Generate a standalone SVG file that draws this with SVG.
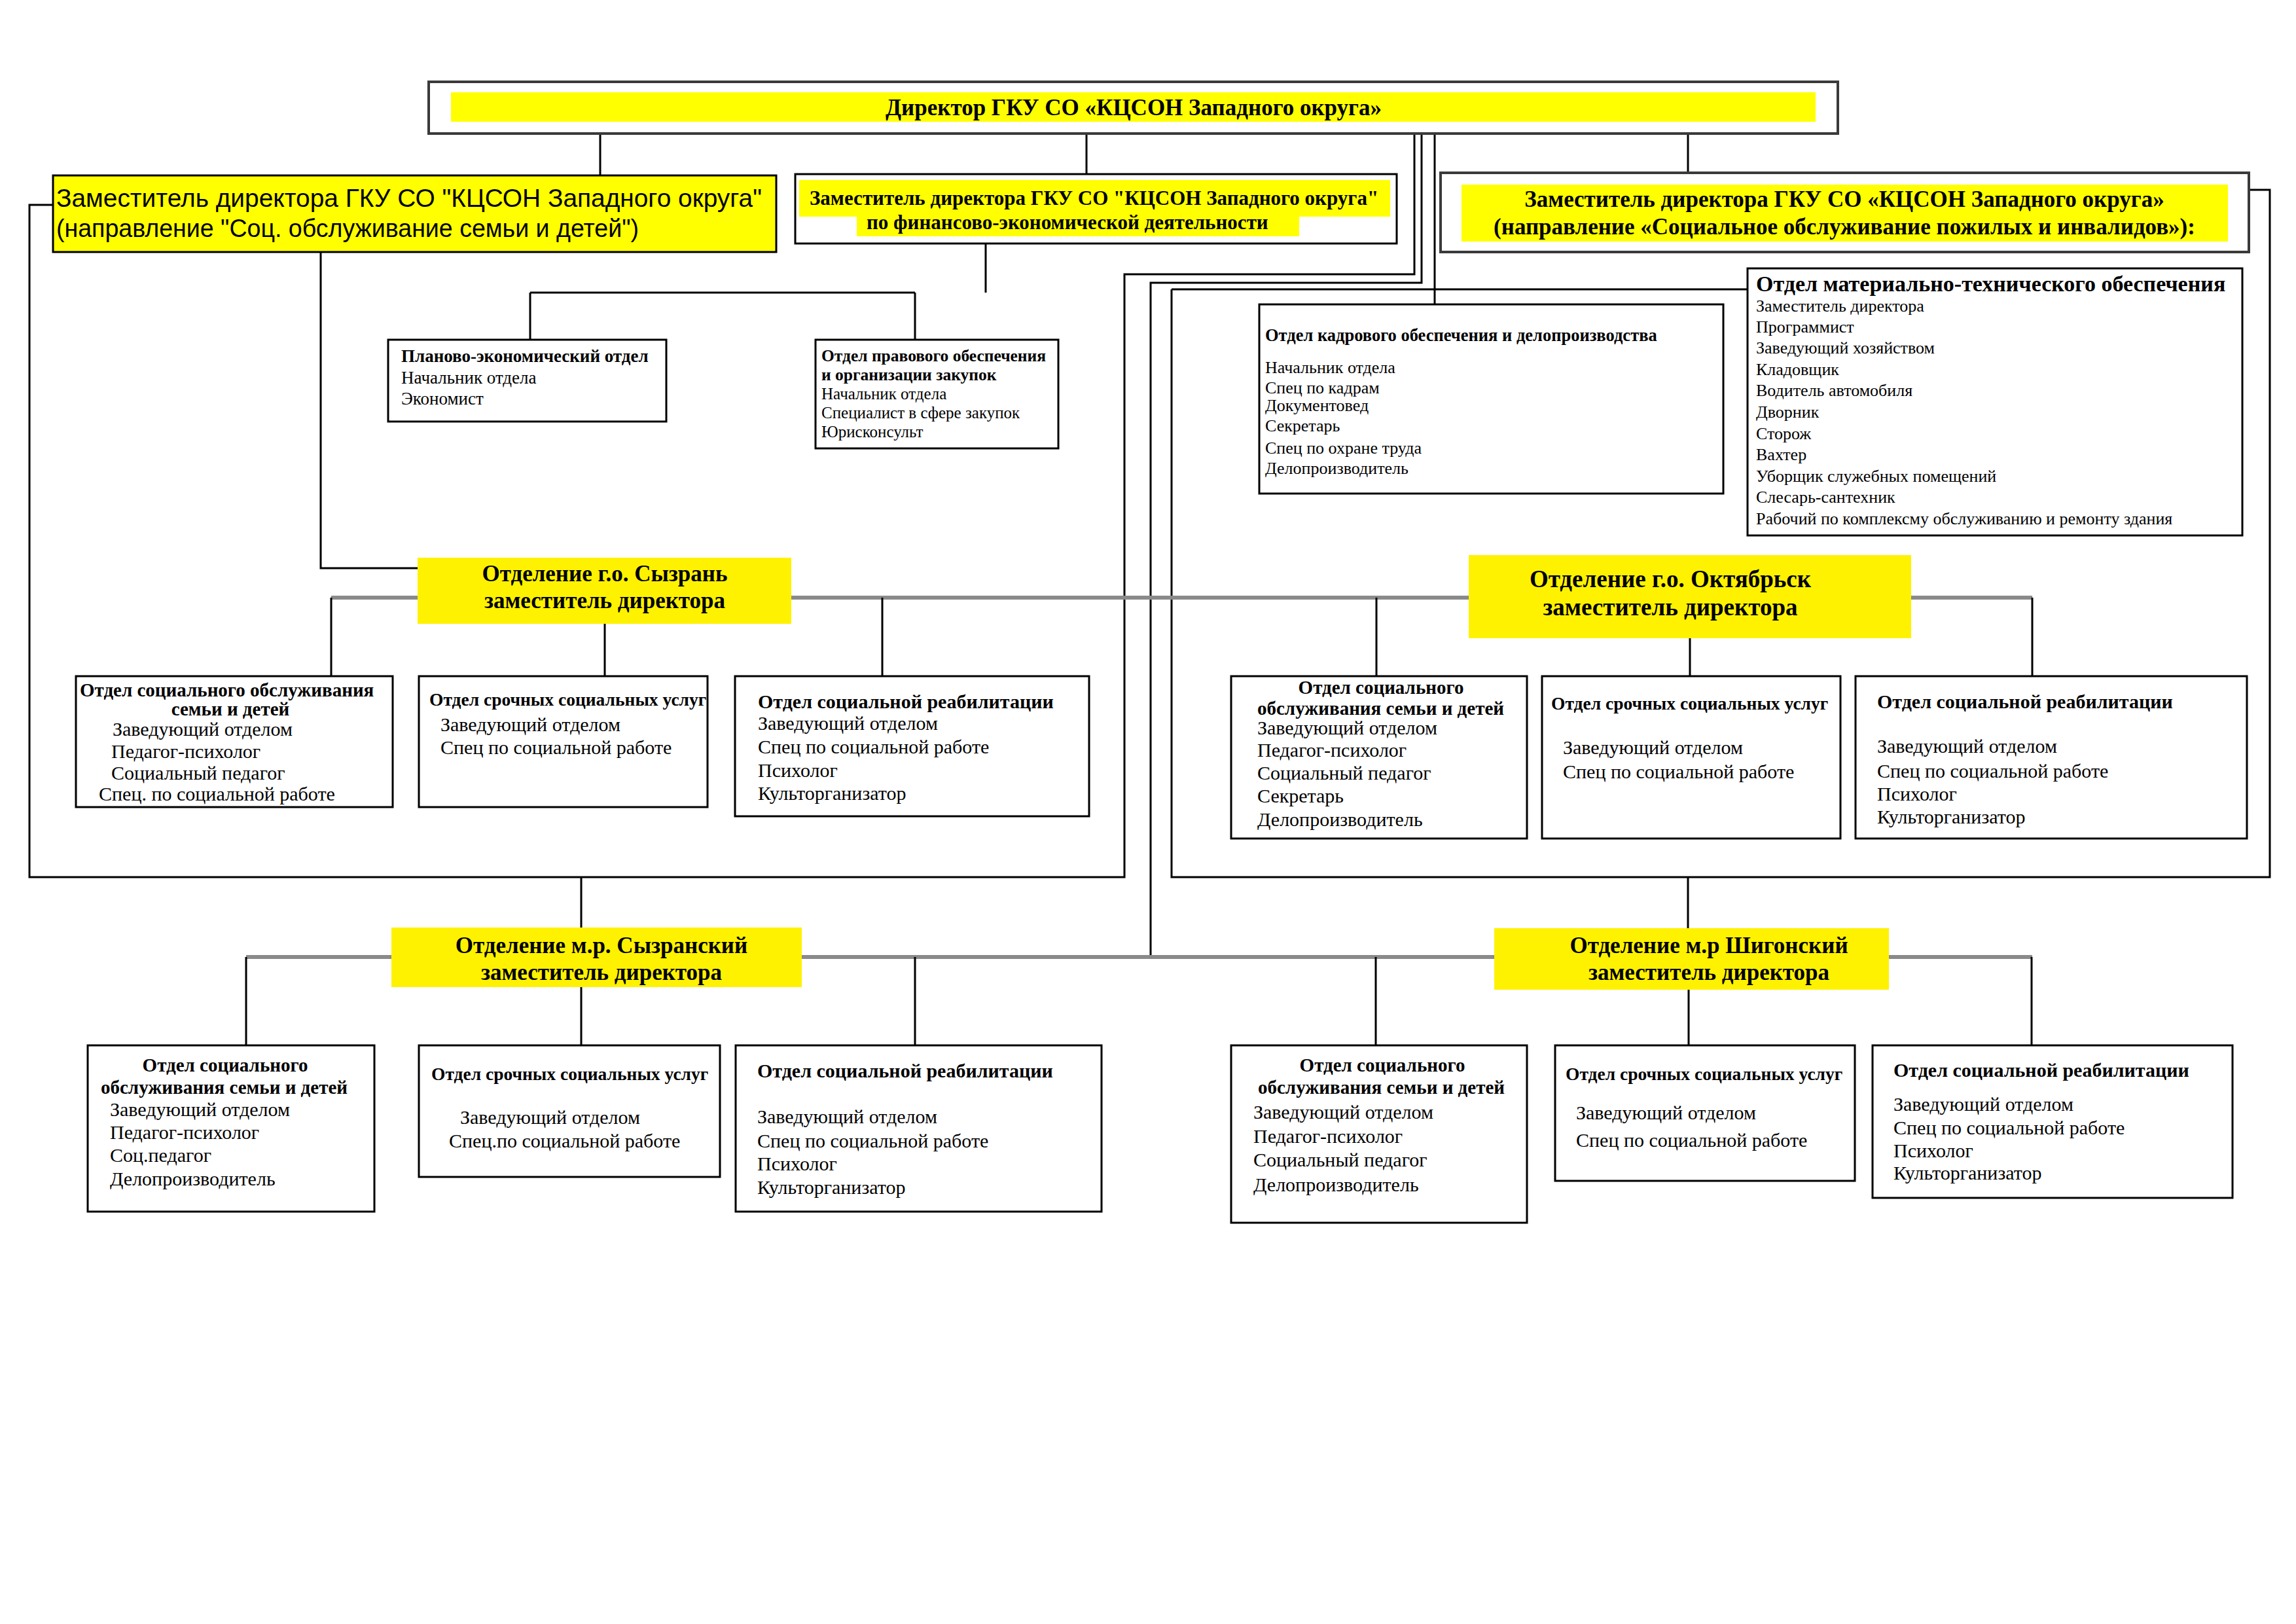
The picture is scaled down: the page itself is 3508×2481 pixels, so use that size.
<svg xmlns="http://www.w3.org/2000/svg" width="3508" height="2481" viewBox="0 0 3508 2481">
<style>
.bg{fill:#ffffff}
.box{fill:#ffffff;stroke:#000;stroke-width:3}
.boxd{fill:#ffffff;stroke:#3a3a3a;stroke-width:4}
.yel{fill:#ffff00}
.yb{fill:#fff200}
.ln{fill:none;stroke:#000;stroke-width:3}
.gl{fill:none;stroke:#8a8a8a;stroke-width:6}
.s{font-family:"Liberation Serif","Times New Roman",serif;fill:#000}
.a{font-family:"Liberation Sans",Arial,sans-serif;fill:#000}
.b{font-weight:bold}
.c{text-anchor:middle}
.h35{font-size:35px}
.h37{font-size:37px}
.h31{font-size:31px}
.t30{font-size:30px}
.t29{font-size:29px}
.t27{font-size:27.5px}
.r30{font-size:30px}
.r26{font-size:26px}
.r25{font-size:25px}
</style>
<rect class="bg" x="0" y="0" width="3508" height="2481"/>

<g id="connectors">
  <path class="ln" d="M917,204 V268"/>
  <path class="ln" d="M1660,204 V266"/>
  <path class="ln" d="M2579,204 V264"/>
  <path class="ln" d="M2161,204 V419 H1718 V1340 H45 V313 H81"/>
  <path class="ln" d="M2172,204 V432 H1758 V1462"/>
  <path class="ln" d="M2192,204 V465"/>
  <path class="ln" d="M1790,442 H2670"/>
  <path class="ln" d="M1790,442 V1340 H3468 V290 H3436"/>
  <path class="ln" d="M1506,372 V447 M810,447 H1398 M810,447 V519 M1398,447 V519"/>
  <path class="ln" d="M490,385 V868 H638"/>
  <path class="gl" d="M506,913 H3105"/>
  <path class="ln" d="M506,913 V1033 M924,953 V1033 M1348,913 V1033"/>
  <path class="ln" d="M2103,913 V1033 M2582,975 V1033 M3105,913 V1033"/>
  <path class="ln" d="M888,1340 V1417 M2579,1340 V1418"/>
  <path class="gl" d="M376,1462 H3105"/>
  <path class="ln" d="M376,1462 V1597 M888,1508 V1597 M1398,1462 V1597"/>
  <path class="ln" d="M2102,1462 V1597 M2580,1512 V1597 M3104,1462 V1597"/>
</g>

<g id="director">
  <rect class="boxd" x="655" y="125" width="2153" height="79"/>
  <rect class="yel" x="689" y="141" width="2085" height="45"/>
  <text class="s b c h35" x="1732" y="176">Директор ГКУ СО «КЦСОН Западного округа»</text>
</g>

<g id="deputy-family">
  <rect class="yel" x="81" y="268" width="1105" height="117" stroke="#000" stroke-width="3"/>
  <text class="a" font-size="39" x="86" y="316" textLength="1078" lengthAdjust="spacingAndGlyphs">Заместитель директора ГКУ СО "КЦСОН Западного округа"</text>
  <text class="a" font-size="39" x="86" y="362" textLength="890" lengthAdjust="spacingAndGlyphs">(направление "Соц. обслуживание семьи и детей")</text>
</g>

<g id="deputy-finance">
  <rect class="box" x="1215" y="266" width="919" height="106"/>
  <rect class="yel" x="1221" y="275" width="903" height="56"/>
  <rect class="yel" x="1309" y="331" width="676" height="30"/>
  <text class="s b h31" x="1237" y="313">Заместитель директора ГКУ СО "КЦСОН Западного округа"</text>
  <text class="s b h31" x="1324" y="350">по финансово-экономической деятельности</text>
</g>

<g id="deputy-elderly">
  <rect class="boxd" x="2201" y="264" width="1235" height="121"/>
  <rect class="yel" x="2233" y="282" width="1171" height="87"/>
  <text class="s b c h35" x="2818" y="316">Заместитель директора ГКУ СО «КЦСОН Западного округа»</text>
  <text class="s b c h35" x="2818" y="358">(направление «Социальное обслуживание пожилых и инвалидов»):</text>
</g>

<g id="planning-dept">
  <rect class="box" x="593" y="519" width="425" height="125"/>
  <text class="s b" font-size="27" x="613" y="553">Планово-экономический отдел</text>
  <text class="s" font-size="27" x="613" y="586">Начальник отдела</text>
  <text class="s" font-size="27" x="613" y="618">Экономист</text>
</g>

<g id="legal-dept">
  <rect class="box" x="1246" y="519" width="371" height="166"/>
  <text class="s b" font-size="25.5" x="1255" y="552">Отдел правового обеспечения</text>
  <text class="s b" font-size="25.5" x="1255" y="581">и организации закупок</text>
  <text class="s r25" x="1255" y="610">Начальник отдела</text>
  <text class="s r25" x="1255" y="639">Специалист в сфере закупок</text>
  <text class="s r25" x="1255" y="668">Юрисконсульт</text>
</g>

<g id="hr-dept">
  <rect class="box" x="1924" y="465" width="709" height="289"/>
  <text class="s b" font-size="26.5" x="1933" y="521">Отдел кадрового обеспечения и делопроизводства</text>
  <text class="s r26" x="1933" y="570">Начальник отдела</text>
  <text class="s r26" x="1933" y="601">Спец по кадрам</text>
  <text class="s r26" x="1933" y="628">Документовед</text>
  <text class="s r26" x="1933" y="659">Секретарь</text>
  <text class="s r26" x="1933" y="693">Спец по охране труда</text>
  <text class="s r26" x="1933" y="724">Делопроизводитель</text>
</g>

<g id="mto-dept">
  <rect class="box" x="2670" y="410" width="756" height="408"/>
  <text class="s b" font-size="34" x="2683" y="445">Отдел материально-технического обеспечения</text>
  <text class="s r26" x="2683" y="476">Заместитель директора</text>
  <text class="s r26" x="2683" y="508">Программист</text>
  <text class="s r26" x="2683" y="540">Заведующий хозяйством</text>
  <text class="s r26" x="2683" y="573">Кладовщик</text>
  <text class="s r26" x="2683" y="605">Водитель автомобиля</text>
  <text class="s r26" x="2683" y="638">Дворник</text>
  <text class="s r26" x="2683" y="671">Сторож</text>
  <text class="s r26" x="2683" y="703">Вахтер</text>
  <text class="s r26" x="2683" y="736">Уборщик служебных помещений</text>
  <text class="s r26" x="2683" y="768">Слесарь-сантехник</text>
  <text class="s r26" x="2683" y="801">Рабочий по комплексму обслуживанию и ремонту здания</text>
</g>

<g id="branch-syzran">
  <rect class="yb" x="638" y="852" width="571" height="101"/>
  <text class="s b c h35" x="924" y="888">Отделение г.о. Сызрань</text>
  <text class="s b c h35" x="924" y="929">заместитель директора</text>
</g>
<g id="syzran-family">
  <rect class="box" x="116" y="1033" width="484" height="200"/>
  <text class="s b t29" x="122" y="1064">Отдел социального обслуживания</text>
  <text class="s b c t29" x="352" y="1093">семьи и детей</text>
  <text class="s r30" x="172" y="1124">Заведующий отделом</text>
  <text class="s r30" x="170" y="1158">Педагог-психолог</text>
  <text class="s r30" x="170" y="1191">Социальный педагог</text>
  <text class="s r30" x="151" y="1223">Спец. по социальной работе</text>
</g>
<g id="syzran-urgent">
  <rect class="box" x="640" y="1033" width="441" height="200"/>
  <text class="s b t27" x="656" y="1078">Отдел срочных социальных услуг</text>
  <text class="s r30" x="673" y="1117">Заведующий отделом</text>
  <text class="s r30" x="673" y="1152">Спец по социальной работе</text>
</g>
<g id="syzran-rehab">
  <rect class="box" x="1123" y="1033" width="541" height="214"/>
  <text class="s b t30" x="1158" y="1082">Отдел социальной реабилитации</text>
  <text class="s r30" x="1158" y="1115">Заведующий отделом</text>
  <text class="s r30" x="1158" y="1151">Спец по социальной работе</text>
  <text class="s r30" x="1158" y="1187">Психолог</text>
  <text class="s r30" x="1158" y="1222">Культорганизатор</text>
</g>

<g id="branch-oktyabrsk">
  <rect class="yb" x="2244" y="848" width="676" height="127"/>
  <text class="s b c h37" x="2552" y="897">Отделение г.о. Октябрьск</text>
  <text class="s b c h37" x="2552" y="940">заместитель директора</text>
</g>
<g id="oktyabrsk-family">
  <rect class="box" x="1881" y="1033" width="452" height="248"/>
  <text class="s b c t29" x="2110" y="1060">Отдел социального</text>
  <text class="s b t29" x="1921" y="1092">обслуживания семьи и детей</text>
  <text class="s r30" x="1921" y="1122">Заведующий отделом</text>
  <text class="s r30" x="1921" y="1156">Педагог-психолог</text>
  <text class="s r30" x="1921" y="1191">Социальный педагог</text>
  <text class="s r30" x="1921" y="1226">Секретарь</text>
  <text class="s r30" x="1921" y="1262">Делопроизводитель</text>
</g>
<g id="oktyabrsk-urgent">
  <rect class="box" x="2356" y="1033" width="456" height="248"/>
  <text class="s b t27" x="2370" y="1084">Отдел срочных социальных услуг</text>
  <text class="s r30" x="2388" y="1152">Заведующий отделом</text>
  <text class="s r30" x="2388" y="1189">Спец по социальной работе</text>
</g>
<g id="oktyabrsk-rehab">
  <rect class="box" x="2835" y="1033" width="598" height="248"/>
  <text class="s b t30" x="2868" y="1082">Отдел социальной реабилитации</text>
  <text class="s r30" x="2868" y="1150">Заведующий отделом</text>
  <text class="s r30" x="2868" y="1188">Спец по социальной работе</text>
  <text class="s r30" x="2868" y="1223">Психолог</text>
  <text class="s r30" x="2868" y="1258">Культорганизатор</text>
</g>

<g id="branch-syzransky">
  <rect class="yb" x="598" y="1417" width="627" height="91"/>
  <text class="s b c h35" x="919" y="1456">Отделение м.р. Сызранский</text>
  <text class="s b c h35" x="919" y="1497">заместитель директора</text>
</g>
<g id="syzransky-family">
  <rect class="box" x="134" y="1597" width="438" height="254"/>
  <text class="s b c t29" x="344" y="1637">Отдел социального</text>
  <text class="s b t29" x="154" y="1671">обслуживания семьи и детей</text>
  <text class="s r30" x="168" y="1705">Заведующий отделом</text>
  <text class="s r30" x="168" y="1740">Педагог-психолог</text>
  <text class="s r30" x="168" y="1775">Соц.педагог</text>
  <text class="s r30" x="168" y="1811">Делопроизводитель</text>
</g>
<g id="syzransky-urgent">
  <rect class="box" x="640" y="1597" width="460" height="201"/>
  <text class="s b t27" x="659" y="1650">Отдел срочных социальных услуг</text>
  <text class="s r30" x="703" y="1717">Заведующий отделом</text>
  <text class="s r30" x="686" y="1753">Спец.по социальной работе</text>
</g>
<g id="syzransky-rehab">
  <rect class="box" x="1124" y="1597" width="559" height="254"/>
  <text class="s b t30" x="1157" y="1646">Отдел социальной реабилитации</text>
  <text class="s r30" x="1157" y="1716">Заведующий отделом</text>
  <text class="s r30" x="1157" y="1753">Спец по социальной работе</text>
  <text class="s r30" x="1157" y="1788">Психолог</text>
  <text class="s r30" x="1157" y="1824">Культорганизатор</text>
</g>

<g id="branch-shigonsky">
  <rect class="yb" x="2283" y="1418" width="603" height="94"/>
  <text class="s b c h35" x="2611" y="1456">Отделение м.р Шигонский</text>
  <text class="s b c h35" x="2611" y="1497">заместитель директора</text>
</g>
<g id="shigonsky-family">
  <rect class="box" x="1881" y="1597" width="452" height="271"/>
  <text class="s b c t29" x="2112" y="1637">Отдел социального</text>
  <text class="s b t29" x="1922" y="1671">обслуживания семьи и детей</text>
  <text class="s r30" x="1915" y="1709">Заведующий отделом</text>
  <text class="s r30" x="1915" y="1746">Педагог-психолог</text>
  <text class="s r30" x="1915" y="1782">Социальный педагог</text>
  <text class="s r30" x="1915" y="1820">Делопроизводитель</text>
</g>
<g id="shigonsky-urgent">
  <rect class="box" x="2376" y="1597" width="458" height="207"/>
  <text class="s b t27" x="2392" y="1650">Отдел срочных социальных услуг</text>
  <text class="s r30" x="2408" y="1710">Заведующий отделом</text>
  <text class="s r30" x="2408" y="1752">Спец по социальной работе</text>
</g>
<g id="shigonsky-rehab">
  <rect class="box" x="2861" y="1597" width="550" height="233"/>
  <text class="s b t30" x="2893" y="1645">Отдел социальной реабилитации</text>
  <text class="s r30" x="2893" y="1697">Заведующий отделом</text>
  <text class="s r30" x="2893" y="1733">Спец по социальной работе</text>
  <text class="s r30" x="2893" y="1768">Психолог</text>
  <text class="s r30" x="2893" y="1802">Культорганизатор</text>
</g>
</svg>
